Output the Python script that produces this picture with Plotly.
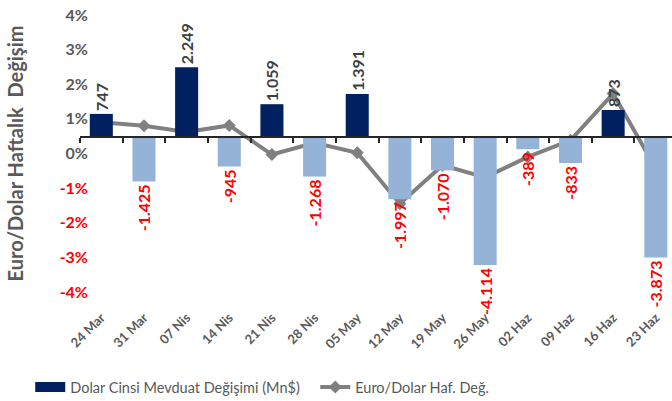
import plotly.graph_objects as go

categories = ["24 Mar", "31 Mar", "07 Nis", "14 Nis", "21 Nis", "28 Nis", "05 May",
              "12 May", "19 May", "26 May", "02 Haz", "09 Haz", "16 Haz", "23 Haz"]
deposit_change = [747, -1425, 2249, -945, 1059, -1268, 1391, -1997, -1070, -4114,
                  -389, -833, 873, -3873]
eurusd_change = [0.90, 0.80, 0.62, 0.81, -0.03, 0.31, 0.02, -1.45, -0.34, -0.69,
                 -0.10, 0.38, 1.73, -0.43]
y_ticks = [-4, -3, -2, -1, 0, 1, 2, 3, 4]

NAVY = "#002060"
LIGHT = "#95B3D7"
GREY = "#595959"
RED = "#FF0000"
FONT = "Lato"

def fmt(v):
    return f"{v:,}".replace(",", ".")

bar_colors = [NAVY if v >= 0 else LIGHT for v in deposit_change]
text_colors = ["#404040" if v >= 0 else RED for v in deposit_change]
tick_text = [f'<span style="color:{RED if t < 0 else GREY}">{t}%</span>' for t in y_ticks]

fig = go.Figure()
fig.add_trace(go.Bar(
    x=categories, y=deposit_change, xaxis="x2", yaxis="y2",
    marker=dict(color=bar_colors, line=dict(width=0)),
    width=0.54,
    text=[fmt(v) for v in deposit_change], textposition="outside", textangle=-90,
    constraintext="none",
    textfont=dict(family=FONT, size=16, color=text_colors, weight="bold"),
    cliponaxis=False, showlegend=False, name="Dolar Cinsi Mevduat Değişimi (Mn$)",
))
fig.add_trace(go.Scatter(
    x=[None], y=[None], mode="lines", line=dict(color=NAVY, width=12),
    name="Dolar Cinsi Mevduat Değişimi (Mn$)", showlegend=True, hoverinfo="skip",
))
fig.add_trace(go.Scatter(
    x=categories, y=eurusd_change, mode="lines+markers", xaxis="x", yaxis="y",
    line=dict(color="#808080", width=4),
    marker=dict(symbol="diamond", size=10, color="#808080"),
    name="Euro/Dolar Haf. Değ.", cliponaxis=False,
))

xr = [-0.5, 13.38]
fig.update_layout(
    width=672, height=401,
    margin=dict(l=80, r=0, t=15, b=109, autoexpand=False),
    paper_bgcolor="white", plot_bgcolor="white",
    font=dict(family=FONT, color=GREY),
    xaxis=dict(type="category", range=xr, tickangle=-45, showline=False, showgrid=False,
               zeroline=False, ticks="outside", ticklen=12, tickcolor="rgba(0,0,0,0)",
               automargin=False,
               tickfont=dict(family=FONT, size=13, color=GREY, weight="bold")),
    xaxis2=dict(type="category", overlaying="x", anchor="free", position=0.559,
                range=xr, showline=True, linecolor="#262626", linewidth=1.5,
                ticks="outside", ticklen=5, tickcolor="#262626", tickwidth=1.5,
                tickson="boundaries", showticklabels=False, showgrid=False, zeroline=False,
                automargin=False),
    yaxis=dict(range=[-4, 4], tickvals=y_ticks, ticktext=tick_text, showgrid=False,
               zeroline=False, showline=False, ticks="", automargin=False,
               ticklabelstandoff=-9,
               tickfont=dict(family=FONT, size=16, color=GREY, weight="bold"),
               title=dict(text="Euro/Dolar Haftalık\u00a0 Değişim",
                          font=dict(family=FONT, size=20, color=GREY, weight="bold"),
                          standoff=30)),
    yaxis2=dict(overlaying="y", side="right", range=[-4981, 3928], visible=False,
                automargin=False),
    legend=dict(orientation="h", xref="container", yref="container",
                x=0.045, xanchor="left", y=0.035, yanchor="middle",
                entrywidth=240, entrywidthmode="pixels",
                font=dict(family=FONT, size=14.5, color=GREY), bgcolor="rgba(0,0,0,0)"),
    bargap=0.46,
)
fig.write_html("out.html", config={"displayModeBar": False},
               post_script="document.body.style.margin='0px';document.body.style.padding='0px';")
